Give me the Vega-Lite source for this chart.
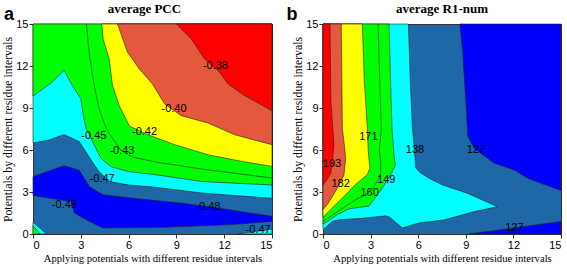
{
"$schema":"https://vega.github.io/schema/vega-lite/v6.json",
"background":"white",
"padding":{"left":2,"top":2,"right":0,"bottom":0},
"spacing":51,
"bounds":"flush",
"datasets":{
"poly":[
{"g":"a_cyan","band":"cyan","i":0,"x":0,"y":6.5},{"g":"a_cyan","band":"cyan","i":1,"x":1.0,"y":6.72},{"g":"a_cyan","band":"cyan","i":2,"x":1.95,"y":7.1},{"g":"a_cyan","band":"cyan","i":3,"x":2.9,"y":6.6},{"g":"a_cyan","band":"cyan","i":4,"x":3.7,"y":5.2},{"g":"a_cyan","band":"cyan","i":5,"x":4.15,"y":4.45},{"g":"a_cyan","band":"cyan","i":6,"x":4.8,"y":3.75},{"g":"a_cyan","band":"cyan","i":7,"x":6.0,"y":3.5},{"g":"a_cyan","band":"cyan","i":8,"x":7.6,"y":3.35},{"g":"a_cyan","band":"cyan","i":9,"x":10.57,"y":2.93},{"g":"a_cyan","band":"cyan","i":10,"x":15,"y":2.55},{"g":"a_cyan","band":"cyan","i":11,"x":15,"y":15},{"g":"a_cyan","band":"cyan","i":12,"x":0,"y":15},
{"g":"a_green","band":"green","i":0,"x":0,"y":9.85},{"g":"a_green","band":"green","i":1,"x":1.2,"y":10.85},{"g":"a_green","band":"green","i":2,"x":1.95,"y":11.7},{"g":"a_green","band":"green","i":3,"x":2.47,"y":10.6},{"g":"a_green","band":"green","i":4,"x":3.0,"y":9.64},{"g":"a_green","band":"green","i":5,"x":3.2,"y":8.2},{"g":"a_green","band":"green","i":6,"x":3.35,"y":7.5},{"g":"a_green","band":"green","i":7,"x":3.84,"y":6.36},{"g":"a_green","band":"green","i":8,"x":4.26,"y":5.41},{"g":"a_green","band":"green","i":9,"x":4.89,"y":4.81},{"g":"a_green","band":"green","i":10,"x":6.04,"y":4.45},{"g":"a_green","band":"green","i":11,"x":7.6,"y":4.25},{"g":"a_green","band":"green","i":12,"x":10.57,"y":3.75},{"g":"a_green","band":"green","i":13,"x":15,"y":3.5},{"g":"a_green","band":"green","i":14,"x":15,"y":15},{"g":"a_green","band":"green","i":15,"x":0,"y":15},
{"g":"a_yellow","band":"yellow","i":0,"x":4.32,"y":15},{"g":"a_yellow","band":"yellow","i":1,"x":4.4,"y":13.93},{"g":"a_yellow","band":"yellow","i":2,"x":4.78,"y":12.5},{"g":"a_yellow","band":"yellow","i":3,"x":4.99,"y":10.6},{"g":"a_yellow","band":"yellow","i":4,"x":5.41,"y":9.17},{"g":"a_yellow","band":"yellow","i":5,"x":6.06,"y":7.7},{"g":"a_yellow","band":"yellow","i":6,"x":7.21,"y":7.09},{"g":"a_yellow","band":"yellow","i":7,"x":8.89,"y":6.38},{"g":"a_yellow","band":"yellow","i":8,"x":10.99,"y":5.66},{"g":"a_yellow","band":"yellow","i":9,"x":13.08,"y":5.19},{"g":"a_yellow","band":"yellow","i":10,"x":15,"y":4.83},{"g":"a_yellow","band":"yellow","i":11,"x":15,"y":15},
{"g":"a_tomato","band":"tomato","i":0,"x":5.3,"y":15},{"g":"a_tomato","band":"tomato","i":1,"x":5.93,"y":12.98},{"g":"a_tomato","band":"tomato","i":2,"x":6.67,"y":11.79},{"g":"a_tomato","band":"tomato","i":3,"x":7.5,"y":10.71},{"g":"a_tomato","band":"tomato","i":4,"x":8.26,"y":9.29},{"g":"a_tomato","band":"tomato","i":5,"x":9.31,"y":8.45},{"g":"a_tomato","band":"tomato","i":6,"x":10.98,"y":7.93},{"g":"a_tomato","band":"tomato","i":7,"x":12.66,"y":7.09},{"g":"a_tomato","band":"tomato","i":8,"x":15,"y":6.38},{"g":"a_tomato","band":"tomato","i":9,"x":15,"y":15},
{"g":"a_red","band":"red","i":0,"x":9.0,"y":15},{"g":"a_red","band":"red","i":1,"x":9.94,"y":13.93},{"g":"a_red","band":"red","i":2,"x":10.77,"y":12.5},{"g":"a_red","band":"red","i":3,"x":11.72,"y":11.55},{"g":"a_red","band":"red","i":4,"x":12.24,"y":10.71},{"g":"a_red","band":"red","i":5,"x":13.29,"y":9.88},{"g":"a_red","band":"red","i":6,"x":15,"y":8.8},{"g":"a_red","band":"red","i":7,"x":15,"y":15},
{"g":"a_blue","band":"blue","i":0,"x":0,"y":4.1},{"g":"a_blue","band":"blue","i":1,"x":1.95,"y":4.88},{"g":"a_blue","band":"blue","i":2,"x":2.89,"y":4.57},{"g":"a_blue","band":"blue","i":3,"x":3.54,"y":3.4},{"g":"a_blue","band":"blue","i":4,"x":4.38,"y":2.81},{"g":"a_blue","band":"blue","i":5,"x":6.16,"y":2.57},{"g":"a_blue","band":"blue","i":6,"x":9.3,"y":2.21},{"g":"a_blue","band":"blue","i":7,"x":11.6,"y":1.86},{"g":"a_blue","band":"blue","i":8,"x":15,"y":1.26},{"g":"a_blue","band":"blue","i":9,"x":15,"y":0.9},{"g":"a_blue","band":"blue","i":10,"x":12.45,"y":0.67},{"g":"a_blue","band":"blue","i":11,"x":8.26,"y":0.48},{"g":"a_blue","band":"blue","i":12,"x":4.38,"y":0.43},{"g":"a_blue","band":"blue","i":13,"x":3.54,"y":0.9},{"g":"a_blue","band":"blue","i":14,"x":2.6,"y":1.5},{"g":"a_blue","band":"blue","i":15,"x":2.39,"y":2.33},{"g":"a_blue","band":"blue","i":16,"x":0,"y":2.75},
{"g":"a_c1","band":"cyan","i":0,"x":0,"y":0},{"g":"a_c1","band":"cyan","i":1,"x":0,"y":0.85},{"g":"a_c1","band":"cyan","i":2,"x":0.85,"y":0},
{"g":"a_c2","band":"green","i":0,"x":0,"y":0},{"g":"a_c2","band":"green","i":1,"x":0,"y":0.6},{"g":"a_c2","band":"green","i":2,"x":0.45,"y":0},
{"g":"a_c3","band":"cyan","i":0,"x":12.8,"y":0},{"g":"a_c3","band":"cyan","i":1,"x":15,"y":0.35},{"g":"a_c3","band":"cyan","i":2,"x":15,"y":0},
{"g":"a_l43","band":"line","i":0,"x":3.35,"y":15},{"g":"a_l43","band":"line","i":1,"x":3.52,"y":12.98},{"g":"a_l43","band":"line","i":2,"x":3.84,"y":10.6},{"g":"a_l43","band":"line","i":3,"x":4.15,"y":8.93},{"g":"a_l43","band":"line","i":4,"x":4.61,"y":7.5},{"g":"a_l43","band":"line","i":5,"x":4.99,"y":6.84},{"g":"a_l43","band":"line","i":6,"x":5.5,"y":6.0},{"g":"a_l43","band":"line","i":7,"x":6.25,"y":5.5},{"g":"a_l43","band":"line","i":8,"x":7.61,"y":5.16},{"g":"a_l43","band":"line","i":9,"x":10.57,"y":4.64},{"g":"a_l43","band":"line","i":10,"x":15,"y":4.0},
{"g":"b_cyan","band":"cyan","i":0,"x":0,"y":0.31},{"g":"b_cyan","band":"cyan","i":1,"x":0.59,"y":0.9},{"g":"b_cyan","band":"cyan","i":2,"x":1.0,"y":1.02},{"g":"b_cyan","band":"cyan","i":3,"x":2.5,"y":1.12},{"g":"b_cyan","band":"cyan","i":4,"x":3.95,"y":1.3},{"g":"b_cyan","band":"cyan","i":5,"x":4.2,"y":1.2},{"g":"b_cyan","band":"cyan","i":6,"x":5.0,"y":0.43},{"g":"b_cyan","band":"cyan","i":7,"x":6.05,"y":0.79},{"g":"b_cyan","band":"cyan","i":8,"x":7.6,"y":1.0},{"g":"b_cyan","band":"cyan","i":9,"x":9.54,"y":1.6},{"g":"b_cyan","band":"cyan","i":10,"x":11.0,"y":1.95},{"g":"b_cyan","band":"cyan","i":11,"x":9.12,"y":2.9},{"g":"b_cyan","band":"cyan","i":12,"x":7.55,"y":3.5},{"g":"b_cyan","band":"cyan","i":13,"x":6.68,"y":3.98},{"g":"b_cyan","band":"cyan","i":14,"x":6.1,"y":4.4},{"g":"b_cyan","band":"cyan","i":15,"x":5.84,"y":4.75},{"g":"b_cyan","band":"cyan","i":16,"x":5.74,"y":6.36},{"g":"b_cyan","band":"cyan","i":17,"x":5.63,"y":7.6},{"g":"b_cyan","band":"cyan","i":18,"x":5.5,"y":11},{"g":"b_cyan","band":"cyan","i":19,"x":5.38,"y":15},{"g":"b_cyan","band":"cyan","i":20,"x":0,"y":15},
{"g":"b_green","band":"green","i":0,"x":0,"y":0.71},{"g":"b_green","band":"green","i":1,"x":0.27,"y":0.9},{"g":"b_green","band":"green","i":2,"x":0.9,"y":1.38},{"g":"b_green","band":"green","i":3,"x":1.64,"y":1.8},{"g":"b_green","band":"green","i":4,"x":2.9,"y":2.0},{"g":"b_green","band":"green","i":5,"x":3.11,"y":2.33},{"g":"b_green","band":"green","i":6,"x":3.74,"y":3.29},{"g":"b_green","band":"green","i":7,"x":4.3,"y":4.3},{"g":"b_green","band":"green","i":8,"x":4.55,"y":4.9},{"g":"b_green","band":"green","i":9,"x":4.45,"y":6.0},{"g":"b_green","band":"green","i":10,"x":4.35,"y":7.5},{"g":"b_green","band":"green","i":11,"x":4.28,"y":10},{"g":"b_green","band":"green","i":12,"x":4.16,"y":15},{"g":"b_green","band":"green","i":13,"x":0,"y":15},
{"g":"b_yellow","band":"yellow","i":0,"x":0,"y":1.19},{"g":"b_yellow","band":"yellow","i":1,"x":0.38,"y":1.62},{"g":"b_yellow","band":"yellow","i":2,"x":1.0,"y":2.33},{"g":"b_yellow","band":"yellow","i":3,"x":1.53,"y":2.93},{"g":"b_yellow","band":"yellow","i":4,"x":2.06,"y":3.55},{"g":"b_yellow","band":"yellow","i":5,"x":2.79,"y":4.24},{"g":"b_yellow","band":"yellow","i":6,"x":2.95,"y":4.7},{"g":"b_yellow","band":"yellow","i":7,"x":2.85,"y":6.0},{"g":"b_yellow","band":"yellow","i":8,"x":2.8,"y":7.5},{"g":"b_yellow","band":"yellow","i":9,"x":2.6,"y":11},{"g":"b_yellow","band":"yellow","i":10,"x":2.48,"y":15},{"g":"b_yellow","band":"yellow","i":11,"x":0,"y":15},
{"g":"b_tomato","band":"tomato","i":0,"x":0,"y":1.74},{"g":"b_tomato","band":"tomato","i":1,"x":0.27,"y":2.1},{"g":"b_tomato","band":"tomato","i":2,"x":0.59,"y":2.67},{"g":"b_tomato","band":"tomato","i":3,"x":0.9,"y":3.26},{"g":"b_tomato","band":"tomato","i":4,"x":1.32,"y":4.21},{"g":"b_tomato","band":"tomato","i":5,"x":1.43,"y":5.4},{"g":"b_tomato","band":"tomato","i":6,"x":1.32,"y":6.6},{"g":"b_tomato","band":"tomato","i":7,"x":1.22,"y":7.5},{"g":"b_tomato","band":"tomato","i":8,"x":1.15,"y":15},{"g":"b_tomato","band":"tomato","i":9,"x":0,"y":15},
{"g":"b_red","band":"red","i":0,"x":0,"y":3.5},{"g":"b_red","band":"red","i":1,"x":0.17,"y":3.75},{"g":"b_red","band":"red","i":2,"x":0.48,"y":4.3},{"g":"b_red","band":"red","i":3,"x":0.59,"y":5.17},{"g":"b_red","band":"red","i":4,"x":0.69,"y":6.36},{"g":"b_red","band":"red","i":5,"x":0.6,"y":7.8},{"g":"b_red","band":"red","i":6,"x":0.5,"y":9.4},{"g":"b_red","band":"red","i":7,"x":0.44,"y":15},{"g":"b_red","band":"red","i":8,"x":0,"y":15},
{"g":"b_blue1","band":"blue","i":0,"x":8.63,"y":15},{"g":"b_blue1","band":"blue","i":1,"x":8.8,"y":12.93},{"g":"b_blue1","band":"blue","i":2,"x":9.01,"y":9.36},{"g":"b_blue1","band":"blue","i":3,"x":9.12,"y":7.0},{"g":"b_blue1","band":"blue","i":4,"x":9.54,"y":6.1},{"g":"b_blue1","band":"blue","i":5,"x":10.8,"y":5.05},{"g":"b_blue1","band":"blue","i":6,"x":12.05,"y":4.57},{"g":"b_blue1","band":"blue","i":7,"x":12.9,"y":3.98},{"g":"b_blue1","band":"blue","i":8,"x":13.74,"y":3.62},{"g":"b_blue1","band":"blue","i":9,"x":15,"y":3.1},{"g":"b_blue1","band":"blue","i":10,"x":15,"y":15},
{"g":"b_blue2","band":"blue","i":0,"x":9.2,"y":0},{"g":"b_blue2","band":"blue","i":1,"x":15,"y":0.9},{"g":"b_blue2","band":"blue","i":2,"x":15,"y":0},
{"g":"b_l160","band":"line","i":0,"x":0,"y":0.9},{"g":"b_l160","band":"line","i":1,"x":0.8,"y":1.5},{"g":"b_l160","band":"line","i":2,"x":1.43,"y":1.98},{"g":"b_l160","band":"line","i":3,"x":2.06,"y":2.45},{"g":"b_l160","band":"line","i":4,"x":2.6,"y":2.75},{"g":"b_l160","band":"line","i":5,"x":3.1,"y":3.2},{"g":"b_l160","band":"line","i":6,"x":3.5,"y":3.9},{"g":"b_l160","band":"line","i":7,"x":3.63,"y":4.3},{"g":"b_l160","band":"line","i":8,"x":3.65,"y":5.0},{"g":"b_l160","band":"line","i":9,"x":3.55,"y":6.0},{"g":"b_l160","band":"line","i":10,"x":3.68,"y":7.5},{"g":"b_l160","band":"line","i":11,"x":3.6,"y":10},{"g":"b_l160","band":"line","i":12,"x":3.47,"y":15}
],
"labels":[
{"p":"a","x":11.45,"y":11.98,"t":"-0.38"},{"p":"a","x":8.85,"y":8.93,"t":"-0.40"},{"p":"a","x":7.0,"y":7.26,"t":"-0.42"},{"p":"a","x":3.82,"y":7.02,"t":"-0.45"},{"p":"a","x":5.58,"y":5.95,"t":"-0.43"},{"p":"a","x":4.34,"y":3.93,"t":"-0.47"},{"p":"a","x":1.97,"y":2.1,"t":"-0.48"},{"p":"a","x":10.98,"y":1.93,"t":"-0.48"},{"p":"a","x":14.13,"y":0.31,"t":"-0.47"},
{"p":"b","x":0.57,"y":5.0,"t":"193"},{"p":"b","x":1.11,"y":3.57,"t":"182"},{"p":"b","x":2.86,"y":6.93,"t":"171"},{"p":"b","x":2.94,"y":2.93,"t":"160"},{"p":"b","x":3.99,"y":3.88,"t":"149"},{"p":"b","x":5.8,"y":5.98,"t":"138"},{"p":"b","x":9.64,"y":6.02,"t":"127"},{"p":"b","x":12.06,"y":0.43,"t":"127"}
],
"letters":[{"p":"a","x":-1.5,"y":15.3,"t":"a"},{"p":"b","x":-1.95,"y":15.3,"t":"b"}]
},
"hconcat":[
{
"width":239,"height":210,
"title":{"text":"average PCC","frame":"group","dx":-8},
"data":{"name":"poly"},
"encoding":{
"x":{"field":"x","type":"quantitative","scale":{"domain":[0,15],"nice":false,"zero":false},"axis":{"values":[0,3,6,9,12,15],"title":"Applying potentials with different residue intervals"}},
"y":{"field":"y","type":"quantitative","scale":{"domain":[0,15],"nice":false,"zero":false},"axis":{"values":[0,3,6,9,12,15],"title":"Potentials by different residue intervals"}}
},
"layer":[
{"transform":[{"filter":"datum.g=='a_cyan'"}],"mark":{"type":"line","interpolate":"linear-closed","stroke":"#222","strokeWidth":0.6},"encoding":{"fill":{"field":"band","type":"nominal","scale":{"domain":["red","tomato","yellow","green","cyan","steel","blue"],"range":["#FF0000","#E4583E","#FFFF00","#00FF00","#00FFFF","#1F68A8","#0000FF"]},"legend":null},"order":{"field":"i","type":"quantitative"}}},
{"transform":[{"filter":"datum.g=='a_green'"}],"mark":{"type":"line","interpolate":"linear-closed","stroke":"#222","strokeWidth":0.6},"encoding":{"fill":{"field":"band","type":"nominal","scale":{"domain":["red","tomato","yellow","green","cyan","steel","blue"],"range":["#FF0000","#E4583E","#FFFF00","#00FF00","#00FFFF","#1F68A8","#0000FF"]},"legend":null},"order":{"field":"i","type":"quantitative"}}},
{"transform":[{"filter":"datum.g=='a_l43'"}],"mark":{"type":"line","stroke":"#222","strokeWidth":0.6},"encoding":{"order":{"field":"i","type":"quantitative"}}},
{"transform":[{"filter":"datum.g=='a_yellow'"}],"mark":{"type":"line","interpolate":"linear-closed","stroke":"#222","strokeWidth":0.6},"encoding":{"fill":{"field":"band","type":"nominal","scale":{"domain":["red","tomato","yellow","green","cyan","steel","blue"],"range":["#FF0000","#E4583E","#FFFF00","#00FF00","#00FFFF","#1F68A8","#0000FF"]},"legend":null},"order":{"field":"i","type":"quantitative"}}},
{"transform":[{"filter":"datum.g=='a_tomato'"}],"mark":{"type":"line","interpolate":"linear-closed","stroke":"#222","strokeWidth":0.6},"encoding":{"fill":{"field":"band","type":"nominal","scale":{"domain":["red","tomato","yellow","green","cyan","steel","blue"],"range":["#FF0000","#E4583E","#FFFF00","#00FF00","#00FFFF","#1F68A8","#0000FF"]},"legend":null},"order":{"field":"i","type":"quantitative"}}},
{"transform":[{"filter":"datum.g=='a_red'"}],"mark":{"type":"line","interpolate":"linear-closed","stroke":"#222","strokeWidth":0.6},"encoding":{"fill":{"field":"band","type":"nominal","scale":{"domain":["red","tomato","yellow","green","cyan","steel","blue"],"range":["#FF0000","#E4583E","#FFFF00","#00FF00","#00FFFF","#1F68A8","#0000FF"]},"legend":null},"order":{"field":"i","type":"quantitative"}}},
{"transform":[{"filter":"datum.g=='a_blue'"}],"mark":{"type":"line","interpolate":"linear-closed","stroke":"#222","strokeWidth":0.6},"encoding":{"fill":{"field":"band","type":"nominal","scale":{"domain":["red","tomato","yellow","green","cyan","steel","blue"],"range":["#FF0000","#E4583E","#FFFF00","#00FF00","#00FFFF","#1F68A8","#0000FF"]},"legend":null},"order":{"field":"i","type":"quantitative"}}},
{"transform":[{"filter":"datum.g=='a_c1'"}],"mark":{"type":"line","interpolate":"linear-closed","stroke":"#222","strokeWidth":0.6},"encoding":{"fill":{"field":"band","type":"nominal","scale":{"domain":["red","tomato","yellow","green","cyan","steel","blue"],"range":["#FF0000","#E4583E","#FFFF00","#00FF00","#00FFFF","#1F68A8","#0000FF"]},"legend":null},"order":{"field":"i","type":"quantitative"}}},
{"transform":[{"filter":"datum.g=='a_c2'"}],"mark":{"type":"line","interpolate":"linear-closed","stroke":"#222","strokeWidth":0.6},"encoding":{"fill":{"field":"band","type":"nominal","scale":{"domain":["red","tomato","yellow","green","cyan","steel","blue"],"range":["#FF0000","#E4583E","#FFFF00","#00FF00","#00FFFF","#1F68A8","#0000FF"]},"legend":null},"order":{"field":"i","type":"quantitative"}}},
{"transform":[{"filter":"datum.g=='a_c3'"}],"mark":{"type":"line","interpolate":"linear-closed","stroke":"#222","strokeWidth":0.6},"encoding":{"fill":{"field":"band","type":"nominal","scale":{"domain":["red","tomato","yellow","green","cyan","steel","blue"],"range":["#FF0000","#E4583E","#FFFF00","#00FF00","#00FFFF","#1F68A8","#0000FF"]},"legend":null},"order":{"field":"i","type":"quantitative"}}},
{"data":{"name":"labels"},"transform":[{"filter":"datum.p=='a'"}],"mark":{"type":"text","font":"Liberation Sans","fontSize":11,"color":"#000","align":"center","baseline":"middle"},"encoding":{"text":{"field":"t"}}},
{"data":{"name":"letters"},"transform":[{"filter":"datum.p=='a'"}],"mark":{"type":"text","font":"Liberation Sans","fontSize":18,"fontWeight":"bold","color":"#000","align":"center","baseline":"alphabetic"},"encoding":{"text":{"field":"t"}}}
]
},
{
"width":238,"height":210,
"title":{"text":"average R1-num","frame":"group"},
"data":{"name":"poly"},
"encoding":{
"x":{"field":"x","type":"quantitative","scale":{"domain":[0,15],"nice":false,"zero":false},"axis":{"values":[0,3,6,9,12,15],"title":"Applying potentials with different residue intervals"}},
"y":{"field":"y","type":"quantitative","scale":{"domain":[0,15],"nice":false,"zero":false},"axis":{"values":[0,3,6,9,12,15],"title":"Potentials by different residue intervals"}}
},
"layer":[
{"transform":[{"filter":"datum.g=='b_cyan'"}],"mark":{"type":"line","interpolate":"linear-closed","stroke":"#222","strokeWidth":0.6},"encoding":{"fill":{"field":"band","type":"nominal","scale":{"domain":["red","tomato","yellow","green","cyan","steel","blue"],"range":["#FF0000","#E4583E","#FFFF00","#00FF00","#00FFFF","#1F68A8","#0000FF"]},"legend":null},"order":{"field":"i","type":"quantitative"}}},
{"transform":[{"filter":"datum.g=='b_green'"}],"mark":{"type":"line","interpolate":"linear-closed","stroke":"#222","strokeWidth":0.6},"encoding":{"fill":{"field":"band","type":"nominal","scale":{"domain":["red","tomato","yellow","green","cyan","steel","blue"],"range":["#FF0000","#E4583E","#FFFF00","#00FF00","#00FFFF","#1F68A8","#0000FF"]},"legend":null},"order":{"field":"i","type":"quantitative"}}},
{"transform":[{"filter":"datum.g=='b_l160'"}],"mark":{"type":"line","stroke":"#222","strokeWidth":0.6},"encoding":{"order":{"field":"i","type":"quantitative"}}},
{"transform":[{"filter":"datum.g=='b_yellow'"}],"mark":{"type":"line","interpolate":"linear-closed","stroke":"#222","strokeWidth":0.6},"encoding":{"fill":{"field":"band","type":"nominal","scale":{"domain":["red","tomato","yellow","green","cyan","steel","blue"],"range":["#FF0000","#E4583E","#FFFF00","#00FF00","#00FFFF","#1F68A8","#0000FF"]},"legend":null},"order":{"field":"i","type":"quantitative"}}},
{"transform":[{"filter":"datum.g=='b_tomato'"}],"mark":{"type":"line","interpolate":"linear-closed","stroke":"#222","strokeWidth":0.6},"encoding":{"fill":{"field":"band","type":"nominal","scale":{"domain":["red","tomato","yellow","green","cyan","steel","blue"],"range":["#FF0000","#E4583E","#FFFF00","#00FF00","#00FFFF","#1F68A8","#0000FF"]},"legend":null},"order":{"field":"i","type":"quantitative"}}},
{"transform":[{"filter":"datum.g=='b_red'"}],"mark":{"type":"line","interpolate":"linear-closed","stroke":"#222","strokeWidth":0.6},"encoding":{"fill":{"field":"band","type":"nominal","scale":{"domain":["red","tomato","yellow","green","cyan","steel","blue"],"range":["#FF0000","#E4583E","#FFFF00","#00FF00","#00FFFF","#1F68A8","#0000FF"]},"legend":null},"order":{"field":"i","type":"quantitative"}}},
{"transform":[{"filter":"datum.g=='b_blue1'"}],"mark":{"type":"line","interpolate":"linear-closed","stroke":"#222","strokeWidth":0.6},"encoding":{"fill":{"field":"band","type":"nominal","scale":{"domain":["red","tomato","yellow","green","cyan","steel","blue"],"range":["#FF0000","#E4583E","#FFFF00","#00FF00","#00FFFF","#1F68A8","#0000FF"]},"legend":null},"order":{"field":"i","type":"quantitative"}}},
{"transform":[{"filter":"datum.g=='b_blue2'"}],"mark":{"type":"line","interpolate":"linear-closed","stroke":"#222","strokeWidth":0.6},"encoding":{"fill":{"field":"band","type":"nominal","scale":{"domain":["red","tomato","yellow","green","cyan","steel","blue"],"range":["#FF0000","#E4583E","#FFFF00","#00FF00","#00FFFF","#1F68A8","#0000FF"]},"legend":null},"order":{"field":"i","type":"quantitative"}}},
{"data":{"name":"labels"},"transform":[{"filter":"datum.p=='b'"}],"mark":{"type":"text","font":"Liberation Sans","fontSize":11,"color":"#000","align":"center","baseline":"middle"},"encoding":{"text":{"field":"t"}}},
{"data":{"name":"letters"},"transform":[{"filter":"datum.p=='b'"}],"mark":{"type":"text","font":"Liberation Sans","fontSize":18,"fontWeight":"bold","color":"#000","align":"center","baseline":"alphabetic"},"encoding":{"text":{"field":"t"}}}
]
}
],
"config":{
"view":{"stroke":"#333","fill":"#1F68A8","strokeWidth":1},
"axis":{"grid":false,"labelFont":"Liberation Sans","labelFontSize":11,"labelColor":"#000","titleFont":"Liberation Serif","titleFontWeight":"normal","titleColor":"#000","tickColor":"#333","domainColor":"#333","tickSize":4,"labelPadding":1},
"axisX":{"titlePadding":3,"titleFontSize":10.7},
"axisY":{"titlePadding":2,"titleFontSize":11.8},
"title":{"font":"Liberation Serif","fontSize":13,"fontWeight":"bold","color":"#000","offset":-10}
}
}
